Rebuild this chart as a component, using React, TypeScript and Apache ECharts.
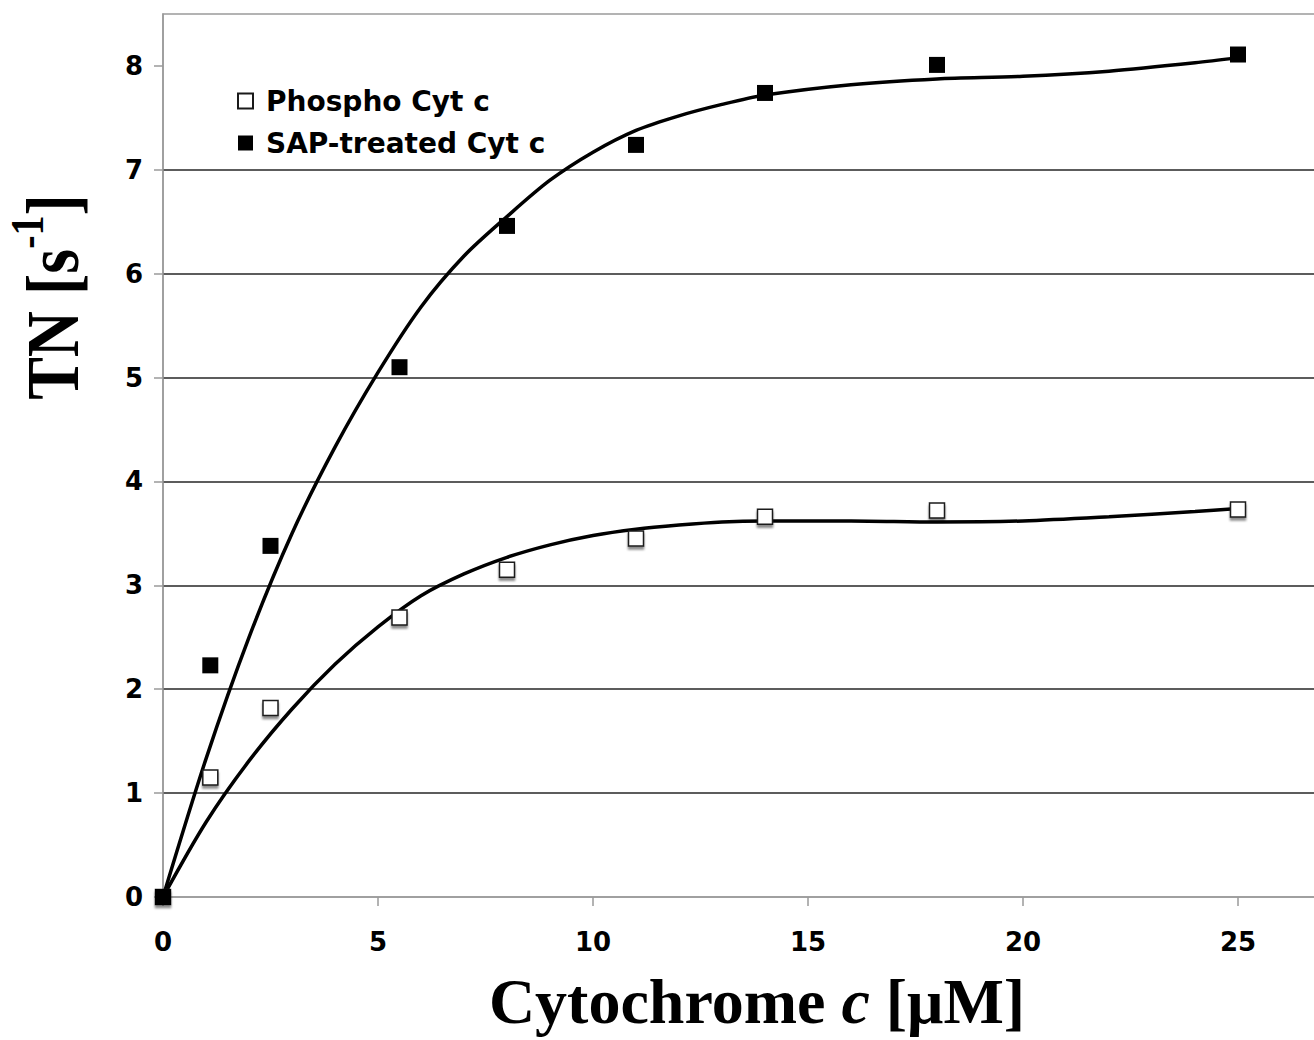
import React, { useEffect, useRef } from 'react';
import * as echarts from 'echarts';

// Measured concentrations (µM)
const concentrations = [0, 1.1, 2.5, 5.5, 8, 11, 14, 18, 25];
// Turnover numbers (s^-1)
const phosphoTN = [0, 1.15, 1.82, 2.69, 3.15, 3.45, 3.66, 3.72, 3.73];
const sapTreatedTN = [0, 2.23, 3.38, 5.1, 6.46, 7.24, 7.74, 8.01, 8.11];

// Trend lines
const fitX = [0, 1, 2, 3, 4, 5, 6, 7, 8, 9, 10, 11, 12, 13, 14, 16, 18, 20, 22, 24, 25];
const sapFitY = [0, 1.33, 2.5, 3.5, 4.33, 5.05, 5.68, 6.17, 6.55, 6.9, 7.17, 7.38, 7.52, 7.63, 7.72, 7.82, 7.875, 7.9, 7.95, 8.03, 8.08];
const phosphoFitY = [0, 0.72, 1.31, 1.81, 2.24, 2.6, 2.9, 3.11, 3.27, 3.39, 3.48, 3.54, 3.58, 3.61, 3.62, 3.62, 3.61, 3.62, 3.66, 3.71, 3.74];

const xTicks = [0, 5, 10, 15, 20, 25, 30];
const xLabels = [0, 5, 10, 15, 20, 25];
const yTicks = [0, 1, 2, 3, 4, 5, 6, 7, 8];

const seriesNames = ['Phospho Cyt c', 'SAP-treated Cyt c'];

const sans = 'DejaVu Sans';
const serif = 'Liberation Serif';

export default function App() {
  const ref = useRef<HTMLDivElement>(null);
  useEffect(() => {
    document.body.style.margin = '0';
    const chart = echarts.init(ref.current!, null, { renderer: 'svg' });
    const pair = (xs: number[], ys: number[]) => xs.map((x, i) => [x, ys[i]]);
    chart.setOption({
      animation: false,
      backgroundColor: '#ffffff',
      grid: {
        left: 163,
        top: 14,
        width: 1290,
        height: 883,
        outerBoundsMode: 'none',
        containLabel: false,
        show: true,
        borderColor: '#9a9a9a',
        borderWidth: 1.5,
        backgroundColor: 'transparent',
      },
      legend: {
        data: seriesNames,
        orient: 'vertical',
        left: 237,
        top: 87,
        padding: 0,
        itemWidth: 15,
        itemHeight: 15,
        itemGap: 14,
        selectedMode: false,
        textStyle: {
          fontFamily: sans,
          fontWeight: 'bold',
          fontSize: 28,
          lineHeight: 28,
          color: '#000',
          padding: [0, 0, 0, 8],
        },
      },
      xAxis: {
        type: 'value',
        min: 0,
        max: 30,
        interval: 5,
        axisLine: { show: true, lineStyle: { color: '#9a9a9a', width: 1.5 } },
        axisTick: { show: true, length: 9, lineStyle: { color: '#9a9a9a', width: 1.5 }, customValues: xTicks },
        axisLabel: {
          customValues: xLabels,
          margin: 32,
          fontFamily: sans,
          fontWeight: 'bold',
          fontSize: 26,
          lineHeight: 26,
          color: '#000',
        },
        splitLine: { show: false },
      },
      yAxis: {
        type: 'value',
        min: 0,
        max: 8.5,
        interval: 1,
        axisLine: { show: true, lineStyle: { color: '#9a9a9a', width: 1.5 } },
        axisTick: { show: true, length: 9, lineStyle: { color: '#9a9a9a', width: 1.5 }, customValues: yTicks },
        axisLabel: {
          customValues: yTicks,
          margin: 20,
          fontFamily: sans,
          fontWeight: 'bold',
          fontSize: 26,
          color: '#000',
          formatter: (v: number) => (Number.isInteger(v) ? String(v) : ''),
        },
        splitLine: {
          show: true,
          showMinLine: false,
          showMaxLine: false,
          lineStyle: { color: '#262626', width: 1.5 },
        },
      },
      graphic: [
        {
          type: 'text',
          x: 53,
          y: 297,
          rotation: Math.PI / 2,
          scaleY: 1.15,
          style: {
            text: '{b|TN [s}{sup|-1}{b|]}',
            align: 'center',
            verticalAlign: 'middle',
            fill: '#000',
            rich: {
              b: { fontFamily: serif, fontWeight: 'bold', fontSize: 64, lineHeight: 84, fill: '#000', verticalAlign: 'middle' },
              sup: { fontFamily: serif, fontWeight: 'bold', fontSize: 40, lineHeight: 40, fill: '#000', verticalAlign: 'top' },
            },
          },
        },
        {
          type: 'text',
          x: 757,
          y: 1001,
          style: {
            text: '{b|Cytochrome }{i|c}{b| [μM]}',
            align: 'center',
            verticalAlign: 'middle',
            fill: '#000',
            rich: {
              b: { fontFamily: serif, fontWeight: 'bold', fontSize: 64, fill: '#000' },
              i: { fontFamily: serif, fontWeight: 'bold', fontStyle: 'italic', fontSize: 64, fill: '#000' },
            },
          },
        },
      ],
      series: [
        {
          name: 'SAP fit',
          type: 'line',
          data: pair(fitX, sapFitY),
          smooth: 0.3,
          showSymbol: false,
          symbol: 'none',
          lineStyle: { color: '#000', width: 3.5 },
          z: 2,
        },
        {
          name: 'Phospho fit',
          type: 'line',
          data: pair(fitX, phosphoFitY),
          smooth: 0.3,
          showSymbol: false,
          symbol: 'none',
          lineStyle: { color: '#000', width: 3.5 },
          z: 2,
        },
        {
          name: seriesNames[0],
          type: 'scatter',
          data: pair(concentrations, phosphoTN),
          symbol: 'rect',
          symbolSize: 15,
          itemStyle: {
            color: '#ffffff',
            opacity: 1,
            borderColor: '#1a1a1a',
            borderWidth: 1.5,
            shadowColor: 'rgba(0,0,0,0.45)',
            shadowOffsetY: 3,
            shadowBlur: 2,
          },
          z: 3,
        },
        {
          name: seriesNames[1],
          type: 'scatter',
          data: pair(concentrations, sapTreatedTN),
          symbol: 'rect',
          symbolSize: 16,
          itemStyle: { color: '#000000', opacity: 1 },
          z: 4,
        },
      ],
    });
    return () => chart.dispose();
  }, []);
  return <div ref={ref} style={{ width: 1314, height: 1040 }} />;
}
